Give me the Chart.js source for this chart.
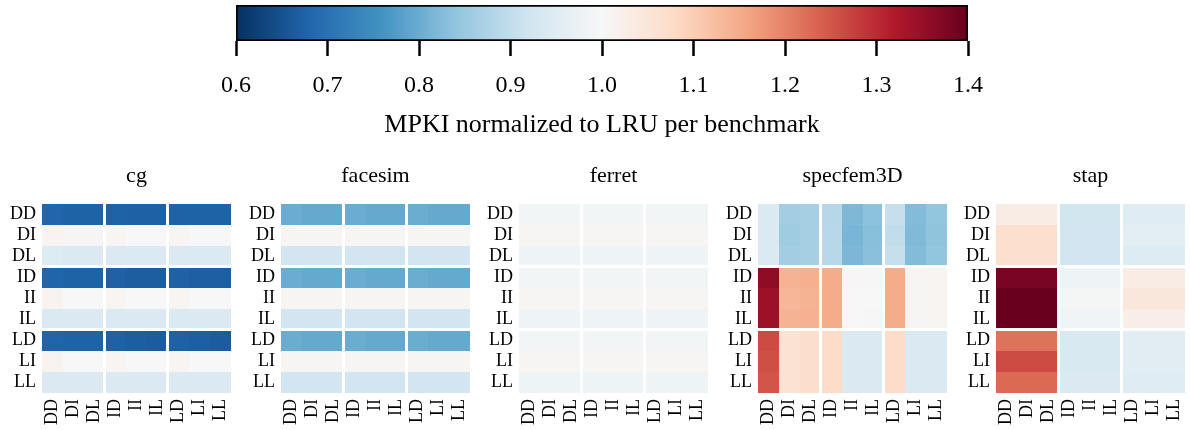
<!DOCTYPE html>
<html>
<head>
<meta charset="utf-8">
<script src="https://cdn.jsdelivr.net/npm/chart.js@4.4.1/dist/chart.umd.min.js"></script>
<style>
  body { margin: 0; background: #fff; width: 1190px; height: 430px; position: relative; overflow: hidden; }
  canvas { position: absolute; }
</style>
</head>
<body>
<script>
// ---- data ----
const benchmarks = ["cg", "facesim", "ferret", "specfem3D", "stap"];
const rowLabels = ["DD", "DI", "DL", "ID", "II", "IL", "LD", "LI", "LL"];
const colLabels = ["DD", "DI", "DL", "ID", "II", "IL", "LD", "LI", "LL"];
const colorbarTicks = [0.6, 0.7, 0.8, 0.9, 1.0, 1.1, 1.2, 1.3, 1.4];
const colorbarLabel = "MPKI normalized to LRU per benchmark";

const cgValues = [
  [0.680, 0.675, 0.675, 0.675, 0.672, 0.672, 0.675, 0.675, 0.675],
  [1.012, 1.005, 1.005, 1.008, 1.000, 1.000, 1.008, 1.000, 1.000],
  [0.945, 0.938, 0.938, 0.940, 0.938, 0.938, 0.940, 0.938, 0.938],
  [0.678, 0.675, 0.675, 0.672, 0.668, 0.668, 0.672, 0.670, 0.670],
  [1.010, 1.000, 1.000, 1.008, 1.000, 1.000, 1.008, 1.000, 1.000],
  [0.942, 0.938, 0.938, 0.940, 0.938, 0.938, 0.940, 0.938, 0.938],
  [0.678, 0.675, 0.675, 0.672, 0.668, 0.665, 0.672, 0.670, 0.665],
  [1.012, 1.000, 1.000, 1.008, 1.000, 1.000, 1.008, 1.000, 1.000],
  [0.942, 0.938, 0.938, 0.940, 0.938, 0.938, 0.940, 0.938, 0.938]
];
const facesimValues = [
  [0.800, 0.795, 0.795, 0.800, 0.795, 0.795, 0.800, 0.795, 0.795],
  [1.006, 1.005, 1.005, 1.005, 1.005, 1.005, 1.005, 1.005, 1.005],
  [0.922, 0.922, 0.922, 0.922, 0.922, 0.922, 0.922, 0.922, 0.922],
  [0.800, 0.795, 0.795, 0.800, 0.795, 0.795, 0.800, 0.795, 0.795],
  [1.006, 1.005, 1.005, 1.005, 1.005, 1.005, 1.005, 1.005, 1.005],
  [0.922, 0.922, 0.922, 0.922, 0.922, 0.922, 0.922, 0.922, 0.922],
  [0.800, 0.795, 0.795, 0.800, 0.795, 0.795, 0.800, 0.795, 0.795],
  [1.006, 1.005, 1.005, 1.005, 1.005, 1.005, 1.005, 1.005, 1.005],
  [0.922, 0.922, 0.922, 0.922, 0.922, 0.922, 0.922, 0.922, 0.922]
];
const ferretValues = [
  [0.990, 0.990, 0.990, 0.990, 0.990, 0.990, 0.990, 0.990, 0.990],
  [1.006, 1.006, 1.006, 1.006, 1.006, 1.006, 1.006, 1.006, 1.006],
  [0.982, 0.982, 0.982, 0.982, 0.982, 0.982, 0.982, 0.982, 0.982],
  [0.990, 0.990, 0.990, 0.990, 0.990, 0.990, 0.990, 0.990, 0.990],
  [1.006, 1.006, 1.006, 1.006, 1.006, 1.006, 1.006, 1.006, 1.006],
  [0.982, 0.982, 0.982, 0.982, 0.982, 0.982, 0.982, 0.982, 0.982],
  [0.990, 0.990, 0.990, 0.990, 0.990, 0.990, 0.990, 0.990, 0.990],
  [1.006, 1.006, 1.006, 1.006, 1.006, 1.006, 1.006, 1.006, 1.006],
  [0.982, 0.982, 0.982, 0.982, 0.982, 0.982, 0.982, 0.982, 0.982]
];
const specfemValues = [
  [0.940, 0.860, 0.865, 0.885, 0.820, 0.835, 0.905, 0.825, 0.840],
  [0.940, 0.858, 0.865, 0.888, 0.815, 0.830, 0.900, 0.822, 0.838],
  [0.940, 0.860, 0.865, 0.888, 0.818, 0.832, 0.905, 0.825, 0.840],
  [1.358, 1.140, 1.145, 1.150, 1.002, 1.002, 1.150, 1.005, 1.008],
  [1.345, 1.135, 1.140, 1.150, 1.000, 1.000, 1.150, 1.005, 1.008],
  [1.345, 1.140, 1.142, 1.150, 1.000, 1.002, 1.150, 1.005, 1.008],
  [1.262, 1.058, 1.070, 1.075, 0.940, 0.940, 1.075, 0.940, 0.940],
  [1.258, 1.058, 1.070, 1.075, 0.940, 0.942, 1.075, 0.940, 0.942],
  [1.252, 1.058, 1.070, 1.075, 0.940, 0.942, 1.075, 0.940, 0.942]
];
const stapValues = [
  [1.030, 1.030, 1.030, 0.923, 0.923, 0.923, 0.952, 0.952, 0.952],
  [1.068, 1.068, 1.068, 0.922, 0.922, 0.922, 0.958, 0.958, 0.958],
  [1.068, 1.068, 1.068, 0.922, 0.922, 0.922, 0.945, 0.945, 0.945],
  [1.382, 1.382, 1.382, 0.980, 0.980, 0.980, 1.030, 1.030, 1.030],
  [1.410, 1.410, 1.410, 0.994, 0.994, 0.994, 1.045, 1.045, 1.045],
  [1.405, 1.405, 1.405, 0.986, 0.986, 0.986, 1.026, 1.026, 1.026],
  [1.218, 1.218, 1.218, 0.937, 0.937, 0.937, 0.955, 0.955, 0.955],
  [1.262, 1.262, 1.262, 0.937, 0.937, 0.937, 0.955, 0.955, 0.955],
  [1.228, 1.228, 1.228, 0.938, 0.938, 0.938, 0.950, 0.950, 0.950]
];
const panelValues = [cgValues, facesimValues, ferretValues, specfemValues, stapValues];

// ---- colormap (RdBu_r, 0.6 .. 1.4) ----
const vmin = 0.6, vmax = 1.4;
const rdbuR = ["#053061", "#2166ac", "#4393c3", "#92c5de", "#d1e5f0", "#f7f7f7",
               "#fddbc7", "#f4a582", "#d6604d", "#b2182b", "#67001f"];
const hexRgb = h => [1, 3, 5].map(i => parseInt(h.slice(i, i + 2), 16));
function cmap(v) {
  let t = Math.max(0, Math.min(1, (v - vmin) / (vmax - vmin)));
  const p = t * (rdbuR.length - 1);
  const i = Math.min(rdbuR.length - 2, Math.floor(p));
  const f = p - i;
  const a = hexRgb(rdbuR[i]), b = hexRgb(rdbuR[i + 1]);
  const c = a.map((x, j) => Math.round(x + (b[j] - x) * f));
  return `rgb(${c[0]},${c[1]},${c[2]})`;
}

const FONT = "'Liberation Serif', 'DejaVu Serif', serif";
Chart.defaults.font.family = FONT;
Chart.defaults.color = "#000";

function addCanvas(left, top, w, h) {
  const cv = document.createElement("canvas");
  cv.width = w; cv.height = h;
  cv.style.left = left + "px"; cv.style.top = top + "px";
  document.body.appendChild(cv);
  return cv;
}

// ---- colorbar ----
new Chart(addCanvas(0, 0, 1190, 150), {
  type: "bar",
  data: {
    labels: [""],
    datasets: [{
      data: [[vmin, vmax]],
      backgroundColor: ctx => {
        const a = ctx.chart.chartArea;
        if (!a) return null;
        const g = ctx.chart.ctx.createLinearGradient(a.left, 0, a.right, 0);
        rdbuR.forEach((c, i) => g.addColorStop(i / (rdbuR.length - 1), c));
        return g;
      },
      borderColor: "#000",
      borderWidth: 2,
      borderSkipped: false,
      barPercentage: 1,
      categoryPercentage: 1
    }]
  },
  options: {
    indexAxis: "y",
    responsive: false,
    animation: false,
    events: [],
    layout: { padding: { left: 236, right: 222, top: 5, bottom: 0 } },
    plugins: { legend: { display: false }, tooltip: { enabled: false } },
    scales: {
      y: { display: false },
      x: {
        type: "linear", min: vmin, max: vmax,
        afterBuildTicks: s => { s.ticks = colorbarTicks.map(v => ({ value: v })); },
        grid: { drawOnChartArea: false, tickLength: 15, tickWidth: 2.5, tickColor: "#000" },
        border: { display: false },
        ticks: { padding: 15, font: { size: 24 }, callback: v => v.toFixed(1) },
        title: { display: true, text: colorbarLabel, font: { size: 26 }, padding: { top: 0, bottom: 9 } },
        afterFit: s => { s.height = 109; s.paddingLeft = 0; s.paddingRight = 0; }
      }
    }
  }
});

// ---- heatmaps ----
// plot areas are 189x189 px (21 px per cell) so cell edges land on whole pixels
const areaLeft = [42, 281, 519, 758, 996];
benchmarks.forEach((name, k) => {
  const vals = panelValues[k];
  const left = areaLeft[k] - 42;
  const w = Math.min(238, 1190 - left);
  new Chart(addCanvas(left, 150, w, 280), {
    type: "bar",
    data: {
      labels: colLabels,
      datasets: rowLabels.map((row, r) => ({
        label: row,
        data: colLabels.map(() => [r, r + 1]),
        backgroundColor: vals[r].map(cmap),
        borderColor: "#fff",
        borderWidth: ctx => {
          const c = ctx.dataIndex;
          return {
            left: (c === 3 || c === 6) ? 1 : 0,
            right: (c === 2 || c === 5) ? 2 : 0,
            top: (r === 3 || r === 6) ? 1 : 0,
            bottom: (r === 2 || r === 5) ? 2 : 0
          };
        },
        borderSkipped: false,
        inflateAmount: 0,
        grouped: false,
        barPercentage: 1,
        categoryPercentage: 1
      }))
    },
    options: {
      responsive: false,
      animation: false,
      events: [],
      layout: { padding: { left: 0, right: w - 231, top: 0, bottom: 0 } },
      plugins: {
        legend: { display: false },
        tooltip: { enabled: false },
        title: {
          display: true, text: name, fullSize: false,
          font: { size: 22, weight: "normal" },
          padding: { top: 13, bottom: 14.6 }
        }
      },
      scales: {
        x: {
          type: "category",
          grid: { display: false, drawTicks: false },
          border: { display: false },
          ticks: { autoSkip: false, minRotation: 90, maxRotation: 90, padding: 6, font: { size: 18 } },
          afterFit: s => { s.height = 37; s.paddingLeft = 0; s.paddingRight = 0; }
        },
        y: {
          type: "linear", min: 0, max: 9, reverse: true,
          grid: { display: false, drawTicks: false },
          border: { display: false },
          afterBuildTicks: s => { s.ticks = rowLabels.map((_, i) => ({ value: i + 0.5 })); },
          ticks: { autoSkip: false, padding: 6, font: { size: 18 }, callback: v => rowLabels[Math.floor(v)] },
          afterFit: s => { s.width = 42; s.paddingTop = 0; s.paddingBottom = 0; }
        }
      }
    }
  });
});
</script>
</body>
</html>
